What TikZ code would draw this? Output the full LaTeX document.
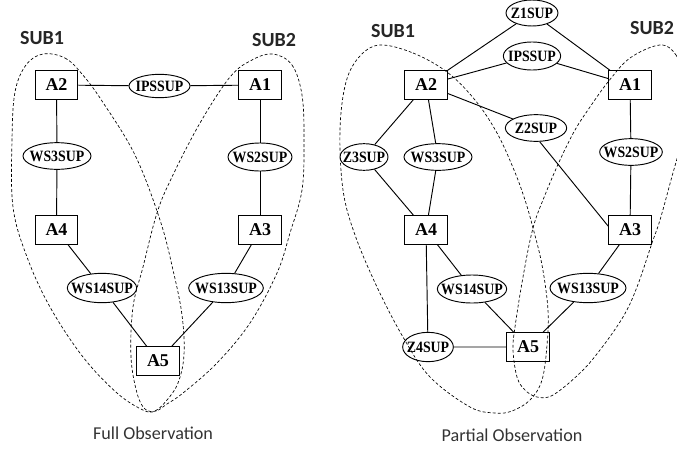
\documentclass[tikz,border=0pt]{standalone}
\usepackage{fontspec}
\setmainfont{Liberation Serif}
\newfontfamily\capfont{Carlito}
\newfontfamily\supfont{Liberation Serif}[FakeStretch=0.88]
\usepackage{tikz}
\usetikzlibrary{shapes, positioning}
\tikzstyle{agent} = [rectangle, draw, line width=0.7pt, minimum width=32pt,
    minimum height=21.5pt, inner sep=0pt, font=\bfseries\fontsize{13.5}{13.5}\selectfont]
\tikzstyle{sup} = [ellipse, draw, line width=0.7pt, inner sep=0pt,
    minimum height=20pt, font=\supfont\bfseries\fontsize{11.8}{11.8}\selectfont]
\tikzstyle{line} = [draw, line width=0.7pt]
\tikzstyle{group} = [draw, line width=0.5pt, dash pattern=on 2.2pt off 1.6pt]
\tikzstyle{subname} = [font=\capfont\bfseries\fontsize{15}{15}\selectfont, text=black!85]
\tikzstyle{caption} = [font=\capfont\fontsize{13.6}{13.6}\selectfont, text=black!80]
\newcommand{\nm}[1]{\makebox[0pt]{#1}}

\begin{document}
\begin{tikzpicture}[x=0.75pt, y=-0.75pt]
		\useasboundingbox (0,0) rectangle (677,450);
		% full observation
		\node [agent] (fA2) at (56.5,85) {A2};
		\node [agent] (fA1) at (260,85) {A1};
		\node [agent] (fA4) at (56.5,230) {A4};
		\node [agent] (fA3) at (260,230) {A3};
		\node [agent] (fA5) at (158,361) {A5};
		\node [sup, minimum width=45.75pt, minimum height=17.5pt] (fIPS) at (159.5,86) {\nm{IPSSUP}};
		\node [sup, minimum width=51pt] (fWS3) at (57,156) {\nm{WS3SUP}};
		\node [sup, minimum width=48pt, minimum height=21pt] (fWS2) at (260,157) {\nm{WS2SUP}};
		\node [sup, minimum width=52pt, minimum height=22pt] (fWS14) at (102,288) {\nm{WS14SUP}};
		\node [sup, minimum width=56pt, minimum height=22pt] (fWS13) at (226,288) {\nm{WS13SUP}};
		
		\path[line] (fA2) -- (fIPS) -- (fA1);
		\path[line] (fA2) -- (fWS3) -- (fA4);
		\path[line] (fA1) -- (fWS2) -- (fA3);
		\path[line] (fA4) -- (fWS14) -- (fA5);
		\path[line] (fA3) -- (fWS13) -- (fA5);
		
		\path[group] plot[smooth cycle, tension=0.6] coordinates {(43,54) (65,58) (82,74) (102,101)
			(135,155) (160,220) (173,270) (182,315) (184,355) (178,383) (167,400) (155,411)
			(143,410) (117,393) (83,357) (50,307) (27,257) (13,207) (12,140) (15,92) (26,65)};
		\path[group] plot[smooth cycle, tension=0.6] coordinates {(273,54) (292,65) (302,95)
			(304,140) (302,190) (290,233) (277,273) (250,323) (217,363) (183,393) (167,404)
			(156,411) (145,409) (137,393) (131,357) (133,307) (143,267) (157,213) (172,177)
			(200,123) (230,77) (252,60)};
		\node [subname] (fSUB1) at (42,38) {SUB1};
		\node [subname] (fSUB2) at (274,40) {SUB2};
		\node [caption] (fcap) at (153,433) {Full Observation};
		
		% partial observation
		\node [agent] (pA2) at (426,85) {A2};
		\node [agent] (pA1) at (630,85) {A1};
		\node [agent] (pA4) at (426,230) {A4};
		\node [agent] (pA3) at (630,230) {A3};
		\node [agent] (pA5) at (528,347) {A5};
		\node [sup, minimum width=39pt, minimum height=19.5pt] (pZ1) at (532,13) {\nm{Z1SUP}};
		\node [sup, minimum width=43pt, minimum height=21pt] (pIPS) at (532,56) {\nm{IPSSUP}};
		\node [sup, minimum width=46pt] (pZ2) at (536,128) {\nm{Z2SUP}};
		\node [sup, minimum width=36pt] (pZ3) at (364,157) {\nm{Z3SUP}};
		\node [sup, minimum width=51pt] (pWS3) at (438,157) {\nm{WS3SUP}};
		\node [sup, minimum width=47pt] (pWS2) at (631,152) {\nm{WS2SUP}};
		\node [sup, minimum width=52pt, minimum height=21pt] (pWS14) at (472,289) {\nm{WS14SUP}};
		\node [sup, minimum width=57pt, minimum height=22pt] (pWS13) at (588,288) {\nm{WS13SUP}};
		\node [sup, minimum width=38pt, minimum height=22pt] (pZ4) at (428,347) {\nm{Z4SUP}};
		
		\path[line] (pA2) -- (pZ1) -- (pA1);
		\path[line] (pA2) -- (pIPS) -- (pA1);
		\path[line] (pA2) -- (pZ2);
		\path[line] (pZ2.-75) -- (pA3.170);
		\path[line] (pA2) -- (pZ3) -- (pA4);
		\path[line] (pA2) -- (pWS3) -- (pA4);
		\path[line] (pA1) -- (pWS2) -- (pA3);
		\path[line] (pA4) -- (pZ4) -- (pA5);
		\path[line] (pA4) -- (pWS14) -- (pA5);
		\path[line] (pA3) -- (pWS13) -- (pA5);
		
		\path[group] plot[smooth cycle, tension=0.6] coordinates {(380,45) (413,53) (447,72) (475,100)
			(497,133) (514,170) (525,200) (533,228) (542,265) (548,310) (547,345) (542,380)
			(530,400) (512,411) (495,413) (470,407) (430,377) (403,337) (377,287) (355,235)
			(343,190) (340,130) (346,82) (360,56)};
		\path[group] plot[smooth cycle, tension=0.6] coordinates {(660,45) (676,55) (685,80)
			(688,110) (682,140) (671,180) (660,220) (652,243) (637,287) (623,317) (600,350)
			(580,373) (553,395) (537,397) (525,390) (517,377) (513,350) (515,327) (523,277)
			(533,228) (545,195) (560,160) (575,130) (590,107) (608,82) (630,58)};
		\node [subname] (pSUB1) at (393,31) {SUB1};
		\node [subname] (pSUB2) at (652,28) {SUB2};
		\node [caption] (pcap) at (512,435) {Partial Observation};
\end{tikzpicture}
\end{document}
